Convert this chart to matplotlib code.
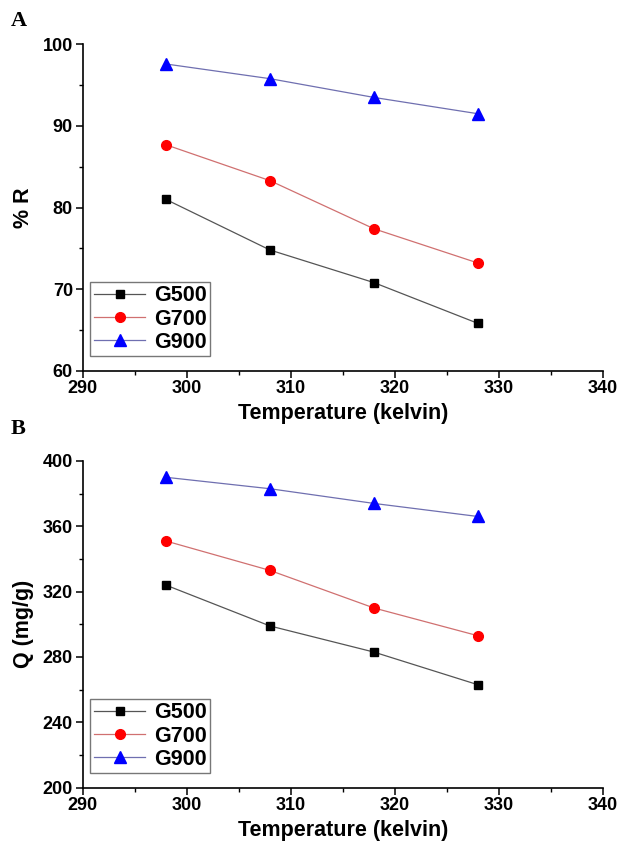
import matplotlib
matplotlib.use("Agg")
import matplotlib.pyplot as plt
from matplotlib.ticker import MultipleLocator

temps = [298, 308, 318, 328]
series_names = ["G500", "G700", "G900"]
R_G500 = [81.0, 74.8, 70.8, 65.8]
R_G700 = [87.7, 83.3, 77.4, 73.2]
R_G900 = [97.6, 95.8, 93.5, 91.5]
Q_G500 = [324, 299, 283, 263]
Q_G700 = [351, 333, 310, 293]
Q_G900 = [390, 383, 374, 366]

plt.rcParams['font.family'] = ['Liberation Sans', 'DejaVu Sans']
plt.rcParams['font.weight'] = 'bold'

fig = plt.figure(figsize=(6.17, 8.41), dpi=100)
axA = fig.add_axes([0.134, 0.5592, 0.843, 0.388])
axB = fig.add_axes([0.134, 0.0634, 0.843, 0.3885])

styles = [
    dict(marker='s', mfc='black', mec='black', ms=6, lc='#555555'),
    dict(marker='o', mfc='red', mec='red', ms=7, lc='#d07070'),
    dict(marker='^', mfc='blue', mec='blue', ms=8, lc='#6f6fb0'),
]

def draw(ax, data, ylim, major, minor, ylabel):
    for name, vals, st in zip(series_names, data, styles):
        ax.plot(temps, vals, color=st['lc'], lw=0.9, marker=st['marker'],
                mfc=st['mfc'], mec=st['mec'], ms=st['ms'], label=name)
    ax.set_xlim(290, 340)
    ax.set_ylim(*ylim)
    ax.xaxis.set_major_locator(MultipleLocator(10))
    ax.xaxis.set_minor_locator(MultipleLocator(5))
    ax.yaxis.set_major_locator(MultipleLocator(major))
    ax.yaxis.set_minor_locator(MultipleLocator(minor))
    for s in ['top', 'right']:
        ax.spines[s].set_visible(False)
    for s in ['left', 'bottom']:
        ax.spines[s].set_linewidth(1.2)
    ax.tick_params(which='major', direction='out', length=5, width=1.1, labelsize=13, pad=2)
    ax.tick_params(which='minor', direction='out', length=3, width=1.0)
    for lab in ax.get_xticklabels() + ax.get_yticklabels():
        lab.set_fontweight('bold')
    ax.set_xlabel('Temperature (kelvin)', fontsize=15.5, fontweight='bold', labelpad=4)
    ax.set_ylabel(ylabel, fontsize=15.5, fontweight='bold', labelpad=6)
    leg = ax.legend(loc='lower left', bbox_to_anchor=(0.015, 0.045), fontsize=15.5,
                    frameon=True, fancybox=False, edgecolor='#555555',
                    handlelength=2.4, borderpad=0.15, labelspacing=0.1,
                    handletextpad=0.4, borderaxespad=0.0)
    leg.get_frame().set_linewidth(1.0)
    for t in leg.get_texts():
        t.set_fontweight('bold')

draw(axA, [R_G500, R_G700, R_G900], (60, 100), 10, 5, '% R')
draw(axB, [Q_G500, Q_G700, Q_G900], (200, 400), 40, 20, 'Q (mg/g)')

fig.text(0.03, 0.975, 'A', family=['Liberation Serif', 'DejaVu Serif'],
         fontsize=16, fontweight='bold', va='center', ha='center')
fig.text(0.03, 0.49, 'B', family=['Liberation Serif', 'DejaVu Serif'],
         fontsize=16, fontweight='bold', va='center', ha='center')

fig.savefig('out.png', dpi=100)
